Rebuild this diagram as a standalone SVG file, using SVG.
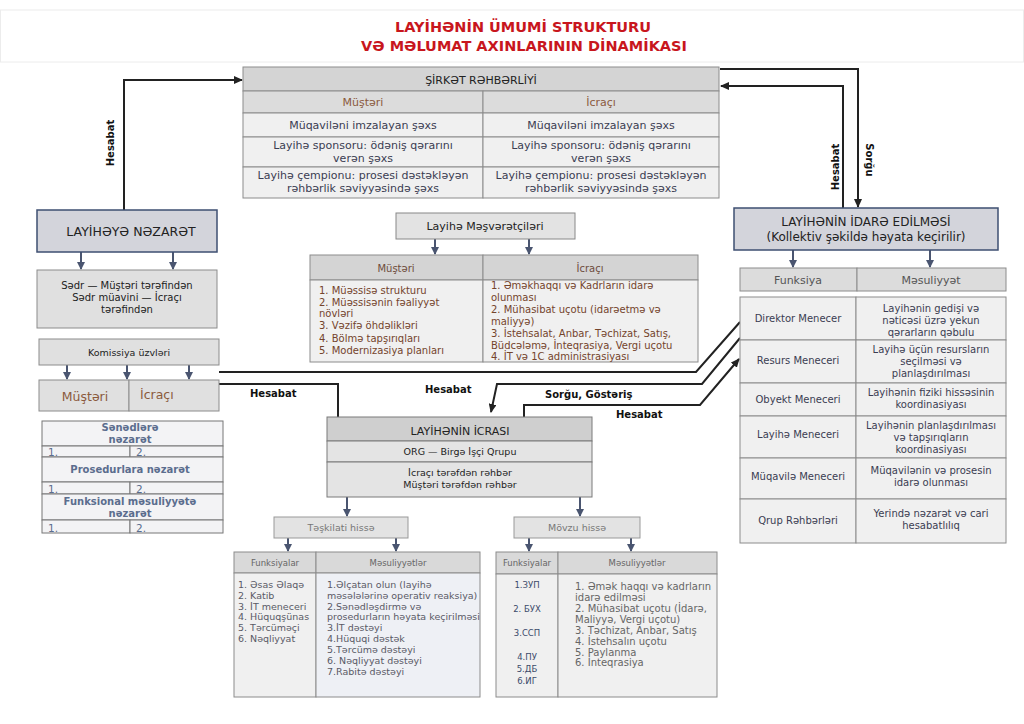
<svg xmlns="http://www.w3.org/2000/svg" width="1024" height="724" viewBox="0 0 1024 724">
<defs>
<style>
text{font-family:"DejaVu Sans","Noto Sans",sans-serif;}
.ttl{font-size:14.5px;font-weight:bold;fill:#c8161d;text-anchor:middle;}
.c{text-anchor:middle;}
.s11{font-size:11px;}
.s10{font-size:10px;}
.s95{font-size:9.5px;}
.dk{fill:#3b3d52;}
.br{fill:#8b5a3c;}
.gr{fill:#555;}
.lb{font-size:10px;font-weight:bold;fill:#111;}
.bl{font-size:10px;font-weight:bold;fill:#5b6d8e;text-anchor:middle;}
.hd{fill:#d4d4d4;stroke:#8c8c8c;stroke-width:1;}
.row{fill:#f0f0f0;stroke:#8c8c8c;stroke-width:1;}
.mid{fill:#e0e0e0;stroke:#8c8c8c;stroke-width:1;}
.key{fill:#d3d4db;stroke:#3e4f72;stroke-width:1.5;}
.con{fill:none;stroke:#222;stroke-width:2;}
.ar{stroke:#4a5570;stroke-width:2;fill:none;}
</style>
<marker id="ah" markerWidth="9" markerHeight="8" refX="8" refY="4" orient="auto" markerUnits="userSpaceOnUse"><path d="M0,0 L9,4 L0,8 z" fill="#222"/></marker>
<marker id="ab" markerWidth="8" markerHeight="8" refX="7" refY="4" orient="auto" markerUnits="userSpaceOnUse"><path d="M0,0 L8,4 L0,8 z" fill="#4a5570"/></marker>
</defs>
<rect x="0" y="0" width="1024" height="724" fill="#fff"/>
<g id="title">
<rect x="0.5" y="10" width="1023" height="52" fill="#fff" stroke="#ececec"/>
<text class="ttl" x="523" y="32">LAYİHƏNİN ÜMUMİ STRUKTURU</text>
<text class="ttl" x="524" y="51">VƏ MƏLUMAT AXINLARININ DİNAMİKASI</text>
</g>

<g id="connectors">
<polyline class="con" points="124,210 124,80 242,80" marker-end="url(#ah)"/>
<polyline class="con" points="720,69 858,69 858,207" marker-end="url(#ah)"/>
<polyline class="con" points="843,208 843,86 721,86" marker-end="url(#ah)"/>
<polyline class="con" points="219,372 696,372 740,322"/>
<polyline class="con" points="219,384 338,384 338,417"/>
<polyline class="con" points="740,338 702,384 497,384 491,412" marker-end="url(#ah)"/>
<polyline class="con" points="524,417 524,405 700,405 739,359" marker-end="url(#ah)"/>
<line class="ar" x1="81" y1="252" x2="81" y2="269" marker-end="url(#ab)"/>
<line class="ar" x1="173" y1="252" x2="173" y2="269" marker-end="url(#ab)"/>
<line class="ar" x1="67" y1="365" x2="67" y2="379" marker-end="url(#ab)"/>
<line class="ar" x1="127" y1="365" x2="127" y2="379" marker-end="url(#ab)"/>
<line class="ar" x1="189" y1="365" x2="189" y2="379" marker-end="url(#ab)"/>
<line class="ar" x1="435" y1="239" x2="435" y2="254" marker-end="url(#ab)"/>
<line class="ar" x1="529" y1="239" x2="529" y2="254" marker-end="url(#ab)"/>
<line class="ar" x1="793" y1="250" x2="793" y2="267" marker-end="url(#ab)"/>
<line class="ar" x1="930" y1="250" x2="930" y2="267" marker-end="url(#ab)"/>
<line class="ar" x1="347" y1="497" x2="347" y2="516" marker-end="url(#ab)"/>
<line class="ar" x1="580" y1="497" x2="580" y2="516" marker-end="url(#ab)"/>
<line class="ar" x1="288" y1="538" x2="288" y2="551" marker-end="url(#ab)"/>
<line class="ar" x1="396" y1="538" x2="396" y2="551" marker-end="url(#ab)"/>
<line class="ar" x1="529" y1="538" x2="529" y2="551" marker-end="url(#ab)"/>
<line class="ar" x1="631" y1="538" x2="631" y2="551" marker-end="url(#ab)"/>
<text class="lb" transform="translate(114,143) rotate(-90)" text-anchor="middle">Hesabat</text>
<text class="lb" transform="translate(839,167) rotate(-90)" text-anchor="middle">Hesabat</text>
<text class="lb" transform="translate(866,160) rotate(90)" text-anchor="middle">Sorğu</text>
<text class="lb" x="250" y="397">Hesabat</text>
<text class="lb" x="425" y="393">Hesabat</text>
<text class="lb" x="545" y="398">Sorğu, Göstəriş</text>
<text class="lb" x="616" y="418">Hesabat</text>
</g>

<g id="sirket">
<rect class="hd" x="243" y="67" width="476" height="24"/>
<text class="c s11" x="481" y="84" fill="#222" font-size="12">ŞİRKƏT RƏHBƏRLİYİ</text>
<rect x="243" y="91" width="240" height="22" fill="#dcdcdc" stroke="#8c8c8c"/>
<rect x="483" y="91" width="236" height="22" fill="#dcdcdc" stroke="#8c8c8c"/>
<rect class="row" x="243" y="113" width="240" height="24"/>
<rect class="row" x="483" y="113" width="236" height="24"/>
<rect class="row" x="243" y="137" width="240" height="30"/>
<rect class="row" x="483" y="137" width="236" height="30"/>
<rect class="row" x="243" y="167" width="240" height="31"/>
<rect class="row" x="483" y="167" width="236" height="31"/>
<text class="c s11 br" x="363" y="106">Müştəri</text>
<text class="c s11 br" x="601" y="106">İcraçı</text>
<text class="c s11 dk" x="363" y="129">Müqaviləni imzalayan şəxs</text>
<text class="c s11 dk" x="601" y="129">Müqaviləni imzalayan şəxs</text>
<text class="c s11 dk" x="363" y="149">Layihə sponsoru: ödəniş qərarını</text>
<text class="c s11 dk" x="363" y="162">verən şəxs</text>
<text class="c s11 dk" x="601" y="149">Layihə sponsoru: ödəniş qərarını</text>
<text class="c s11 dk" x="601" y="162">verən şəxs</text>
<text class="c s11 dk" x="363" y="179">Layihə çempionu: prosesi dəstəkləyən</text>
<text class="c s11 dk" x="363" y="192">rəhbərlik səviyyəsində şəxs</text>
<text class="c s11 dk" x="601" y="179">Layihə çempionu: prosesi dəstəkləyən</text>
<text class="c s11 dk" x="601" y="192">rəhbərlik səviyyəsində şəxs</text>
</g>

<g id="nezaret">
<rect class="key" x="37" y="210" width="180" height="42"/>
<text class="c" x="131" y="236" font-size="12.5" fill="#222">LAYİHƏYƏ NƏZARƏT</text>
</g>
<g id="sedr">
<rect class="mid" x="37" y="270" width="180" height="58"/>
<text class="c s10" x="127" y="289" fill="#222">Sədr — Müştəri tərəfindən</text>
<text class="c s10" x="127" y="301" fill="#222">Sədr müavini — İcraçı</text>
<text class="c s10" x="127" y="313" fill="#222">tərəfindən</text>
</g>
<g id="komissiya">
<rect class="mid" x="39" y="339" width="180" height="26"/>
<text class="c" x="129" y="356" font-size="9.5" fill="#222">Komissiya üzvləri</text>
</g>
<g id="komissiya-teref">
<rect class="mid" x="39" y="380" width="90" height="31"/>
<rect class="mid" x="129" y="380" width="90" height="31"/>
<text class="c br" x="85" y="401" font-size="12.5">Müştəri</text>
<text class="br" x="140" y="399" font-size="12.5">İcraçı</text>
</g>
<g id="nezaret-cedvel">
<rect x="42" y="421" width="181" height="25" fill="#f3f3f5" stroke="#777"/>
<rect x="42" y="446" width="88" height="11" fill="#f3f3f5" stroke="#777"/>
<rect x="130" y="446" width="93" height="11" fill="#f3f3f5" stroke="#777"/>
<rect x="42" y="457" width="181" height="25" fill="#f3f3f5" stroke="#777"/>
<rect x="42" y="482" width="88" height="12" fill="#f3f3f5" stroke="#777"/>
<rect x="130" y="482" width="93" height="12" fill="#f3f3f5" stroke="#777"/>
<rect x="42" y="494" width="181" height="26" fill="#f3f3f5" stroke="#777"/>
<rect x="42" y="520" width="88" height="13" fill="#f3f3f5" stroke="#777"/>
<rect x="130" y="520" width="93" height="13" fill="#f3f3f5" stroke="#777"/>
<text class="bl" x="130" y="431">Sənədlərə</text>
<text class="bl" x="130" y="443">nəzarət</text>
<text class="bl" x="130" y="473">Prosedurlara nəzarət</text>
<text class="bl" x="130" y="505">Funksional məsuliyyətə</text>
<text class="bl" x="130" y="517">nəzarət</text>
<text x="48" y="456" font-size="10.5" fill="#5b6d8e">1.</text>
<text x="136" y="456" font-size="10.5" fill="#5b6d8e">2.</text>
<text x="48" y="493" font-size="10.5" fill="#5b6d8e">1.</text>
<text x="136" y="493" font-size="10.5" fill="#5b6d8e">2.</text>
<text x="48" y="532" font-size="10.5" fill="#5b6d8e">1.</text>
<text x="136" y="532" font-size="10.5" fill="#5b6d8e">2.</text>
</g>

<g id="meshveretciler">
<rect x="396" y="213" width="179" height="26" fill="#e3e3e3" stroke="#888"/>
<text class="c s11" x="485" y="230" fill="#222">Layihə Məşvərətçiləri</text>
<rect class="hd" x="310" y="255" width="173" height="25"/>
<rect class="hd" x="483" y="255" width="215" height="25"/>
<rect class="row" x="310" y="280" width="173" height="82"/>
<rect class="row" x="483" y="280" width="215" height="82"/>
<text class="c s10" x="396" y="272" fill="#6e4c3c">Müştəri</text>
<text class="c s10" x="590" y="272" fill="#6e4c3c">İcraçı</text>
<g font-size="10" fill="#74442c">
<text x="319" y="294">1. Müəssisə strukturu</text>
<text x="319" y="306">2. Müəssisənin fəaliyyət</text>
<text x="319" y="317">növləri</text>
<text x="319" y="329">3. Vəzifə öhdəlikləri</text>
<text x="319" y="342">4. Bölmə tapşırıqları</text>
<text x="319" y="354">5. Modernizasiya planları</text>
<text x="491" y="289">1. Əməkhaqqı və Kadrların idarə</text>
<text x="491" y="301">olunması</text>
<text x="491" y="313">2. Mühasibat uçotu (idarəetmə və</text>
<text x="491" y="325">maliyyə)</text>
<text x="491" y="337">3. İstehsalat, Anbar, Təchizat, Satış,</text>
<text x="491" y="349">Büdcələmə, İnteqrasiya, Vergi uçotu</text>
<text x="491" y="360">4. İT və 1C administrasiyası</text>
</g>
</g>

<g id="idare">
<rect class="key" x="734" y="208" width="264" height="42" fill="#d3d3d6" stroke="#4f5f7f"/>
<text class="c" x="866" y="226" font-size="12" fill="#222">LAYİHƏNİN İDARƏ EDİLMƏSİ</text>
<text class="c" x="866" y="241" font-size="12" fill="#222">(Kollektiv şəkildə həyata keçirilir)</text>
</g>
<g id="idare-cedvel">
<rect x="740" y="268" width="117" height="23" fill="#dcdcdc" stroke="#8c8c8c"/>
<rect x="857" y="268" width="149" height="23" fill="#dcdcdc" stroke="#8c8c8c"/>
<text class="c s11 gr" x="798" y="284">Funksiya</text>
<text class="c s11 gr" x="931" y="284">Məsuliyyət</text>
<rect class="row" x="740" y="297" width="116" height="43"/>
<rect class="row" x="856" y="297" width="150" height="43"/>
<rect class="row" x="740" y="340" width="116" height="43"/>
<rect class="row" x="856" y="340" width="150" height="43"/>
<rect class="row" x="740" y="383" width="116" height="33"/>
<rect class="row" x="856" y="383" width="150" height="33"/>
<rect class="row" x="740" y="416" width="116" height="42"/>
<rect class="row" x="856" y="416" width="150" height="42"/>
<rect class="row" x="740" y="458" width="116" height="41"/>
<rect class="row" x="856" y="458" width="150" height="41"/>
<rect class="row" x="740" y="499" width="116" height="44"/>
<rect class="row" x="856" y="499" width="150" height="44"/>
<g font-size="10" fill="#3b3d52" text-anchor="middle">
<text x="798" y="322">Direktor Menecer</text>
<text x="931" y="312">Layihənin gedişi və</text>
<text x="931" y="324">nəticəsi üzrə yekun</text>
<text x="931" y="336">qərarların qəbulu</text>
<text x="798" y="364">Resurs Meneceri</text>
<text x="931" y="353">Layihə üçün resursların</text>
<text x="931" y="365">seçilməsi və</text>
<text x="931" y="377">planlaşdırılması</text>
<text x="798" y="403">Obyekt Meneceri</text>
<text x="931" y="396">Layihənin fiziki hissəsinin</text>
<text x="931" y="408">koordinasiyası</text>
<text x="798" y="438">Layihə Meneceri</text>
<text x="931" y="429">Layihənin planlaşdırılması</text>
<text x="931" y="441">və tapşırıqların</text>
<text x="931" y="453">koordinasiyası</text>
<text x="798" y="480">Müqavilə Meneceri</text>
<text x="931" y="474">Müqavilənin və prosesin</text>
<text x="931" y="486">idarə olunması</text>
<text x="798" y="524">Qrup Rəhbərləri</text>
<text x="931" y="517">Yerində nəzarət və cari</text>
<text x="931" y="529">hesabatlılıq</text>
</g>
</g>

<g id="icra">
<rect x="327" y="417" width="265" height="24" fill="#cfcfcf" stroke="#7a7a7a"/>
<rect x="327" y="441" width="265" height="21" fill="#e4e4e4" stroke="#7a7a7a"/>
<rect x="327" y="462" width="265" height="35" fill="#e4e4e4" stroke="#7a7a7a"/>
<text class="c s11" x="460" y="435" fill="#222">LAYİHƏNİN İCRASI</text>
<text class="c" x="460" y="455" font-size="9.5" fill="#222">ORG — Birgə İşçi Qrupu</text>
<text class="c" x="460" y="476" font-size="9.5" fill="#222">İcraçı tərəfdən rəhbər</text>
<text class="c" x="460" y="488" font-size="9.5" fill="#222">Müştəri tərəfdən rəhbər</text>
</g>
<g id="teskilati">
<rect x="274" y="517" width="134" height="21" fill="#e3e3e3" stroke="#999"/>
<text class="c" x="341" y="531" font-size="9.5" fill="#777">Təşkilati hissə</text>
</g>
<g id="movzu">
<rect x="514" y="517" width="126" height="21" fill="#e3e3e3" stroke="#999"/>
<text class="c" x="577" y="531" font-size="9.5" fill="#777">Mövzu hissə</text>
</g>

<g id="teskilati-cedvel">
<rect x="234" y="552" width="82" height="21" fill="#d9d9d9" stroke="#8c8c8c"/>
<rect x="316" y="552" width="164" height="21" fill="#d9d9d9" stroke="#8c8c8c"/>
<rect x="234" y="573" width="82" height="124" fill="#f0f0f0" stroke="#8c8c8c"/>
<rect x="316" y="573" width="164" height="124" fill="#eef0f5" stroke="#8c8c8c"/>
<text class="c" x="275" y="566" font-size="8.5" fill="#666">Funksiyalar</text>
<text class="c" x="398" y="566" font-size="8.5" fill="#666">Məsuliyyətlər</text>
<g font-size="9.5" fill="#5a5a66">
<text x="238" y="588">1. Əsas Əlaqə</text>
<text x="238" y="599">2. Katib</text>
<text x="238" y="610">3. İT meneceri</text>
<text x="238" y="620">4. Hüquqşünas</text>
<text x="238" y="631">5. Tərcüməçi</text>
<text x="238" y="642">6. Nəqliyyat</text>
<text x="327" y="588">1.Əlçatan olun (layihə</text>
<text x="327" y="599">məsələlərinə operativ reaksiya)</text>
<text x="327" y="610">2.Sənədləşdirmə və</text>
<text x="327" y="620">prosedurların həyata keçirilməsi</text>
<text x="327" y="631">3.İT dəstəyi</text>
<text x="327" y="642">4.Hüquqi dəstək</text>
<text x="327" y="653">5.Tərcümə dəstəyi</text>
<text x="327" y="664">6. Nəqliyyat dəstəyi</text>
<text x="327" y="675">7.Rabitə dəstəyi</text>
</g>
</g>

<g id="movzu-cedvel">
<rect x="496" y="552" width="62" height="22" fill="#d9d9d9" stroke="#8c8c8c"/>
<rect x="558" y="552" width="159" height="22" fill="#d9d9d9" stroke="#8c8c8c"/>
<rect x="496" y="574" width="62" height="123" fill="#f0f0f0" stroke="#8c8c8c"/>
<rect x="558" y="574" width="159" height="123" fill="#f0f0f0" stroke="#8c8c8c"/>
<text class="c" x="527" y="566" font-size="8.5" fill="#666">Funksiyalar</text>
<text class="c" x="637" y="566" font-size="8.5" fill="#666">Məsuliyyətlər</text>
<g font-size="8.5" fill="#3a4a6a" text-anchor="middle" font-family="Liberation Sans Narrow,Liberation Sans,sans-serif" style="font-family:'Liberation Sans Narrow','Liberation Sans',sans-serif">
<text x="527" y="588">1.ЗУП</text>
<text x="527" y="612">2. БУХ</text>
<text x="527" y="636">3.ССП</text>
<text x="527" y="660">4.ПУ</text>
<text x="527" y="672">5.ДБ</text>
<text x="527" y="684">6.ИГ</text>
</g>
<g font-size="10" fill="#666">
<text x="575" y="590">1. Əmək haqqı və kadrların</text>
<text x="575" y="601">idarə edilməsi</text>
<text x="575" y="612">2. Mühasibat uçotu (İdarə,</text>
<text x="575" y="623">Maliyyə, Vergi uçotu)</text>
<text x="575" y="634">3. Təchizat, Anbar, Satış</text>
<text x="575" y="645">4. İstehsalın uçotu</text>
<text x="575" y="656">5. Paylanma</text>
<text x="575" y="666">6. İnteqrasiya</text>
</g>
</g>
</svg>
